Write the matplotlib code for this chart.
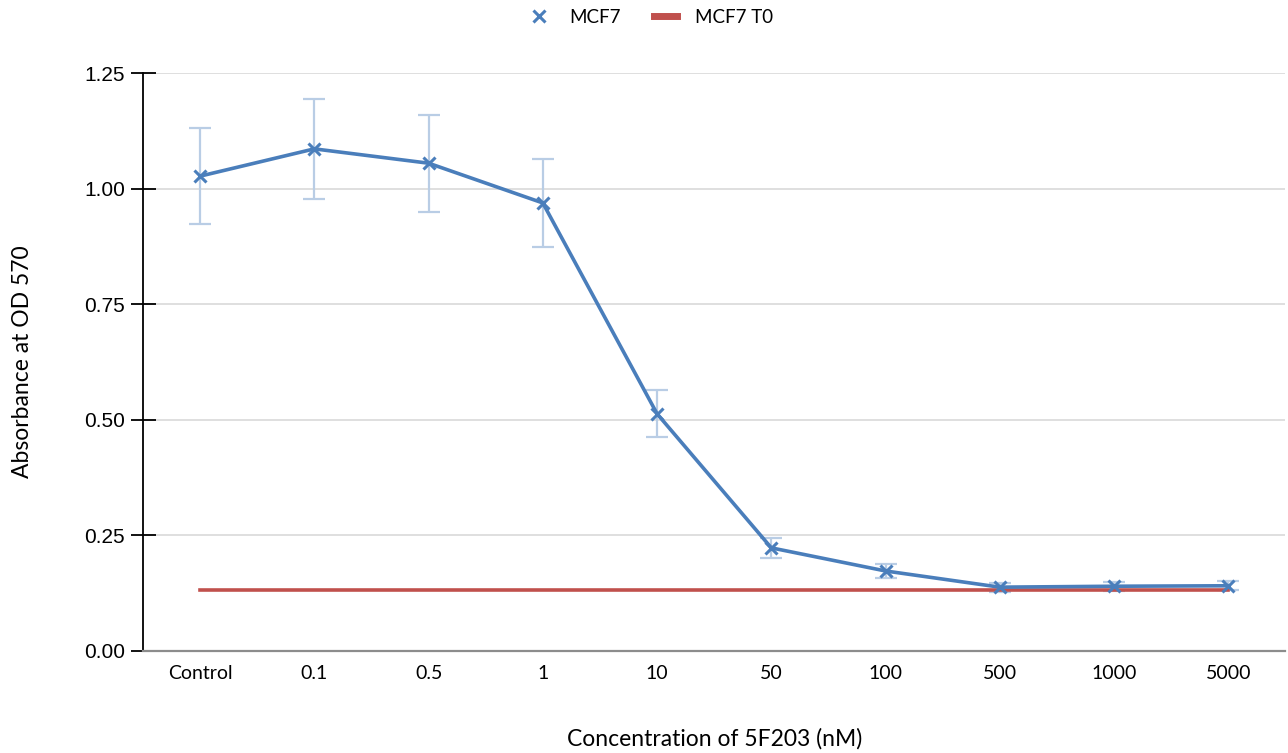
import numpy as np
import matplotlib
matplotlib.use("Agg")
from matplotlib import pyplot as plt
from matplotlib.lines import Line2D

categories = ["Control", "0.1", "0.5", "1", "10", "50", "100", "500", "1000", "5000"]
mcf7 = [1.027, 1.086, 1.055, 0.969, 0.513, 0.223, 0.173, 0.138, 0.140, 0.141]
mcf7_err = [0.104, 0.108, 0.105, 0.096, 0.051, 0.022, 0.016, 0.010, 0.010, 0.010]
t0_value = 0.131

blue = "#4a7ebb"
err_blue = "#b9cde5"
red = "#c0504d"

plt.rcParams["font.family"] = ["Lato", "DejaVu Sans"]

fig = plt.figure(figsize=(12.88, 7.53), dpi=100)
ax = fig.add_axes([0.111, 0.1355, 0.887, 0.7675])

x = np.arange(len(categories))

ax.errorbar(x, mcf7, yerr=mcf7_err, fmt="none", ecolor=err_blue,
            elinewidth=1.6, capsize=8, capthick=1.6, zorder=2)
ax.plot(x, mcf7, color=blue, linewidth=2.6, marker="x", markersize=9,
        markeredgewidth=2.2, zorder=4)
ax.plot([x[0], x[-1]], [t0_value, t0_value], color=red, linewidth=2.6, zorder=3)

ax.set_xlim(-0.5, len(categories) - 0.5)
ax.set_ylim(0, 1.25)
ax.set_yticks([0, 0.25, 0.5, 0.75, 1.0, 1.25])
ax.set_yticklabels(["0.00", "0.25", "0.50", "0.75", "1.00", "1.25"],
                   fontfamily="Liberation Sans")
ax.set_xticks(x)
ax.set_xticklabels(categories)

ax.grid(axis="y", color="#d9d9d9", linewidth=1.2, zorder=0)
ax.set_axisbelow(True)

for side in ["top", "right"]:
    ax.spines[side].set_visible(False)
ax.spines["left"].set_color("black")
ax.spines["left"].set_linewidth(1.3)
ax.spines["bottom"].set_color("#8c8c8c")
ax.spines["bottom"].set_linewidth(1.6)

ax.tick_params(axis="y", direction="inout", length=18, width=1.3,
               labelsize=15, pad=4, colors="black")
ax.tick_params(axis="x", length=0, labelsize=14, pad=10)

ax.set_xlabel("Concentration of 5F203 (nM)", fontsize=16.5, labelpad=33)
ax.set_ylabel("Absorbance at OD 570", fontsize=16.5, labelpad=37)

handles = [
    Line2D([], [], color=blue, linestyle="none", marker="x", markersize=9,
           markeredgewidth=2.2),
    Line2D([], [], color=red, linewidth=5),
]
fig.legend(handles, ["MCF7", "MCF7 T0"], loc="center", bbox_to_anchor=(0.505, 0.977),
           ncol=2, frameon=False, fontsize=13.5, handlelength=1.2,
           columnspacing=1.8, handletextpad=1.0)

fig.savefig("out.png", dpi=100)
